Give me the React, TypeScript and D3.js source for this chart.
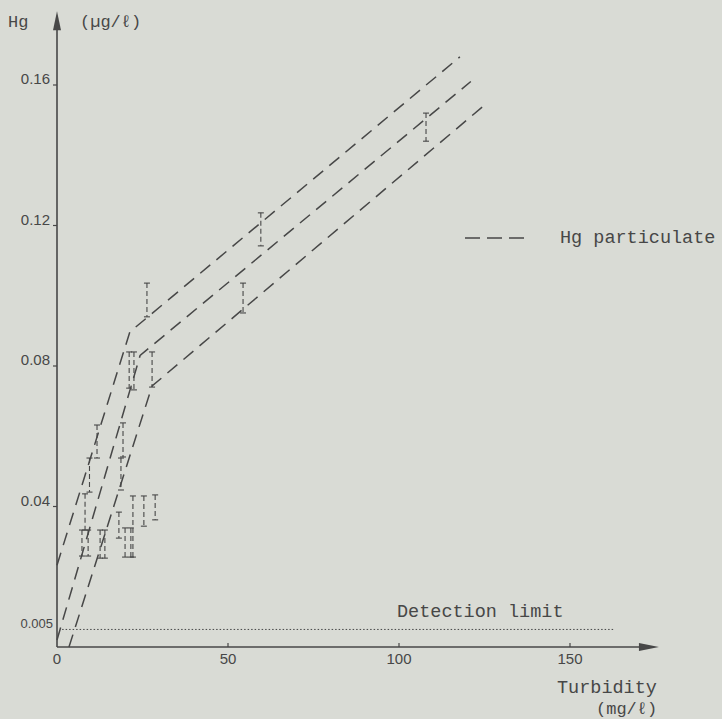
import * as d3 from "d3";

// fitted envelope lines (turbidity mg/l, Hg ug/l)
const fitUpper: [number, number][] = [
  [0, 0.0233],
  [21.3, 0.0897],
  [117.8, 0.168],
];
const fitMiddle: [number, number][] = [
  [0, 0.002],
  [24.3, 0.083],
  [121, 0.161],
];
const fitLower: [number, number][] = [
  [3.5, 0],
  [27.8, 0.0743],
  [124.3, 0.1537],
];

// measured ranges
const barX = [26.3, 54.4, 59.6, 107.9, 21.1, 22.5, 27.8, 19.3, 11.7, 9.5, 18.7, 8.2, 7.3, 9.1, 12.6, 14.0, 18.1, 19.9, 21.6, 22.2, 25.4, 28.7];
const barHigh = [0.1036, 0.1036, 0.1236, 0.152, 0.084, 0.084, 0.084, 0.0638, 0.0632, 0.0538, 0.0538, 0.0436, 0.0333, 0.0333, 0.0333, 0.0333, 0.0384, 0.0339, 0.0339, 0.043, 0.043, 0.0433];
const barLow = [0.094, 0.0951, 0.1142, 0.144, 0.0737, 0.0732, 0.074, 0.0541, 0.0538, 0.0441, 0.0447, 0.0333, 0.0259, 0.0259, 0.0253, 0.0253, 0.031, 0.0256, 0.0256, 0.0256, 0.0344, 0.0362];

const xTicks = [0, 50, 100, 150];
const yTicks = [0.04, 0.08, 0.12, 0.16];
const yTickLabels = ["0.04", "0.08", "0.12", "0.16"];
const detectionLimit = 0.005;

const W = 722;
const H = 719;
const ink = "#474747";
const paper = "#d9dbd5";
const mono = "'Liberation Mono', 'DejaVu Sans Mono', monospace";
const sans = "'Liberation Sans', Arial, sans-serif";

export default function App() {
  const x = d3.scaleLinear().domain([0, 150]).range([57, 570]);
  const y = d3.scaleLinear().domain([0, 0.16]).range([647, 85]);
  const line = d3
    .line<[number, number]>()
    .x((d) => x(d[0]))
    .y((d) => y(d[1]));

  const x0 = x(0);
  const y0 = y(0);
  const xEnd = x(176);
  const yEnd = y(0.181);

  return (
    <svg
      width={W}
      height={H}
      style={{ position: "absolute", left: 0, top: 0 }}
    >
      <rect width={W} height={H} fill={paper} />

      {/* axes */}
      <line x1={x0} y1={y0} x2={x0} y2={yEnd + 10} stroke={ink} strokeWidth={1.6} />
      <path d={`M${x0},${yEnd} L${x0 - 4},${yEnd + 19} L${x0 + 4},${yEnd + 19} Z`} fill={ink} />
      <line x1={x0} y1={y0} x2={xEnd - 10} y2={y0} stroke={ink} strokeWidth={1.6} />
      <path d={`M${xEnd},${y0} L${xEnd - 20},${y0 - 4} L${xEnd - 20},${y0 + 4} Z`} fill={ink} />

      {xTicks.map((t) => (
        <g key={t}>
          {t > 0 && <line x1={x(t)} x2={x(t)} y1={y0} y2={y0 - 4} stroke={ink} strokeWidth={1.2} />}
          <text x={x(t)} y={y0 + 17} textAnchor="middle" fontFamily={sans} fontSize={15} fill={ink}>
            {t}
          </text>
        </g>
      ))}

      {yTicks.map((t, i) => (
        <g key={t}>
          <line x1={x0} x2={x0 - 4} y1={y(t)} y2={y(t)} stroke={ink} strokeWidth={1.2} />
          <text x={x0 - 7} y={y(t) - 1} textAnchor="end" fontFamily={sans} fontSize={15} fill={ink}>
            {yTickLabels[i]}
          </text>
        </g>
      ))}
      <text x={x0 - 4} y={y(detectionLimit) - 1} textAnchor="end" fontFamily={sans} fontSize={13} fill={ink}>
        0.005
      </text>

      {/* detection limit */}
      <line
        x1={x(1.5)}
        x2={x(163)}
        y1={y(detectionLimit)}
        y2={y(detectionLimit)}
        stroke={ink}
        strokeWidth={1}
        strokeDasharray="1.5,2"
      />
      <text x={397} y={617} fontFamily={mono} fontSize={18.5} fill={ink}>
        Detection limit
      </text>

      {/* envelope lines */}
      {[fitUpper, fitMiddle, fitLower].map((pts, i) => (
        <path
          key={i}
          d={line(pts) || ""}
          fill="none"
          stroke={ink}
          strokeWidth={1.5}
          strokeDasharray="13,8"
        />
      ))}

      {/* error bars */}
      {barX.map((bx, i) => {
        const px = x(bx);
        return (
          <g key={i} stroke={ink} strokeWidth={1.1}>
            <line x1={px} x2={px} y1={y(barHigh[i])} y2={y(barLow[i])} strokeDasharray="5,3" />
            <line x1={px - 3} x2={px + 3} y1={y(barHigh[i])} y2={y(barHigh[i])} />
            <line x1={px - 3} x2={px + 3} y1={y(barLow[i])} y2={y(barLow[i])} />
          </g>
        );
      })}

      {/* legend */}
      <line x1={465} x2={531} y1={238} y2={238} stroke={ink} strokeWidth={1.5} strokeDasharray="15,7" />
      <text x={560} y={243} fontFamily={mono} fontSize={18.5} fill={ink}>
        Hg particulate
      </text>

      {/* axis titles */}
      <text x={8} y={27} fontFamily={mono} fontSize={17} fill={ink}>
        Hg
      </text>
      <text x={80} y={27} fontFamily={mono} fontSize={17} fill={ink}>
        (µg/ℓ)
      </text>
      <text x={557} y={693} fontFamily={mono} fontSize={18.5} fill={ink}>
        Turbidity
      </text>
      <text x={596} y={714} fontFamily={mono} fontSize={17} fill={ink}>
        (mg/ℓ)
      </text>
    </svg>
  );
}
